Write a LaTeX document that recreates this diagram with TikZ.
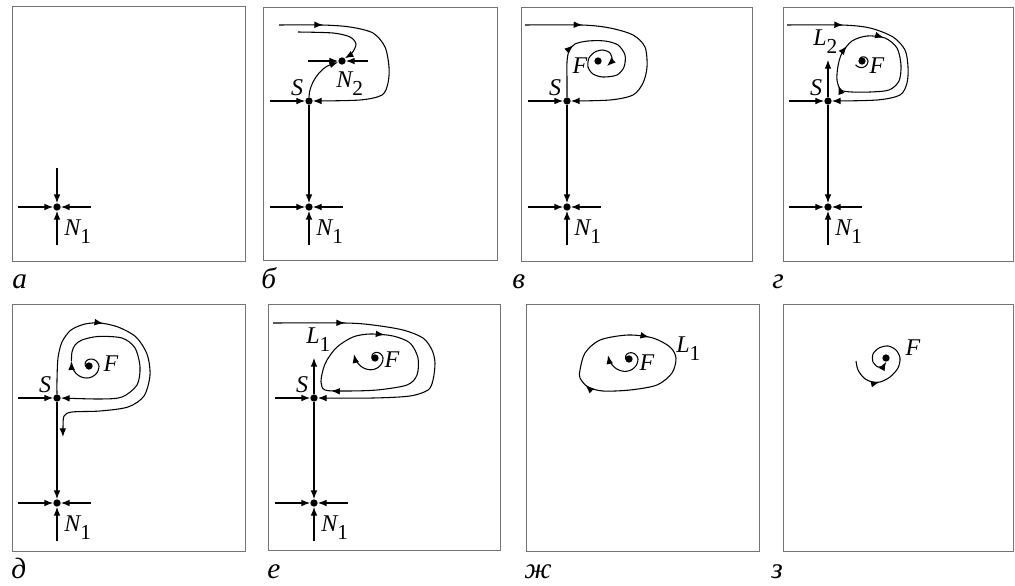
\documentclass[tikz,border=0pt]{standalone}
\usepackage{fontspec}
\setmainfont{Liberation Serif}
\newfontfamily\labelserif{Liberation Serif}
\usetikzlibrary{arrows.meta,decorations.markings}

% upright, lowered index after an italic letter
\newcommand\subidx[1]{\raisebox{-6.5pt}{\fontsize{16}{16}\selectfont\labelserif\upshape #1}}

% stable node: dot, three incoming stubs and the label N_1
\newcommand\sinkcross[3]{%
  \node[pt] (#1) at (#2,#3) {};
  \path (#1) ++(-39,0) coordinate (#1w);
  \path (#1) ++(34,0) coordinate (#1e);
  \path (#1) ++(0,38) coordinate (#1s);
  \draw[traj,tip] (#1w) -- (#1);
  \draw[traj,tip] (#1e) -- (#1);
  \draw[traj,tip] (#1s) -- (#1);
  \path (#1) ++(7,28) node[lbl,anchor=base west] (#1l) {N\subidx{1}};
}

% saddle: dot, incoming stub from the left and the label S
\newcommand\saddlept[3]{%
  \node[pt] (#1) at (#2,#3) {};
  \path (#1) ++(-39,0) coordinate (#1w);
  \draw[traj,tip] (#1w) -- (#1);
  \path (#1) ++(-12,-13) node[lbl] (#1l) {S};
}

\begin{document}
\begin{tikzpicture}[x=0.75pt,y=-0.75pt,
  frame/.style={draw=black!55, line width=0.75pt},
  traj/.style={line width=0.8pt, draw=black},
  tip/.style={-{Latex[length=6.5pt,width=5pt]}},
  pt/.style={circle, fill=black, inner sep=0pt, minimum size=5.5pt},
  arrowat/.style={postaction={decorate, decoration={markings,
      mark=at position #1 with {\arrow{Latex[length=6.5pt,width=5pt]}}}}},
  lbl/.style={font=\fontsize{18}{18}\selectfont\labelserif\itshape, inner sep=0pt},
  panelcap/.style={font=\fontsize{22}{22}\selectfont\labelserif\itshape, inner sep=0pt, anchor=base west},
  declare function={spr(\ang,\ra,\rb)=(\ang<0)*(\ra*(\ang+270)/270)+(1-(\ang<0))*(\ra+\rb*(\ang/180)*(\ang/180));}
]
\useasboundingbox (0,0) rectangle (1015,586);

% ---------- frames ----------
\draw[frame] (12,6)   rectangle (245,261);
\draw[frame] (263,7)  rectangle (497,260);
\draw[frame] (521,7)  rectangle (752,261);
\draw[frame] (783,7)  rectangle (1013,261);
\draw[frame] (12,304) rectangle (245,551);
\draw[frame] (268,304) rectangle (500,550);
\draw[frame] (526,304) rectangle (759,551);
\draw[frame] (783,304) rectangle (1013,551);

% ---------- captions ----------
\node[panelcap] (capA) at (12,288)  {а};
\node[panelcap] (capB) at (261,288) {б};
\node[panelcap] (capC) at (512,288) {в};
\node[panelcap] (capD) at (772,288) {г};
\node[panelcap] (capE) at (11,578)  {д};
\node[panelcap] (capF) at (267,578) {е};
\node[panelcap] (capG) at (524,578) {ж};
\node[panelcap] (capH) at (771,578) {з};

% ---------- panel a ----------
\sinkcross{aN}{57}{207}
\path (aN) ++(0,-39) coordinate (aNn);
\draw[traj,tip] (aNn) -- (aN);

% ---------- panel b ----------
\saddlept{bS}{309}{101}
\sinkcross{bN}{309}{207}
\draw[traj,tip] (bS) -- (bN);
\node[pt] (bM) at (342,61) {};
\path (bM) ++(-34,0) coordinate (bMw);
\path (bM) ++(26,0) coordinate (bMe);
\draw[traj,tip] (bMw) -- (bM);
\draw[traj,tip] (bMe) -- (bM);
\node[lbl,anchor=base west] (bMl) at (336,87) {N\subidx{2}};
\draw[traj,tip] (bS.north) .. controls (309,84) and (320,68) .. (bM);
\coordinate (bA) at (279,25);
\draw[traj,tip,arrowat=33pt] plot[smooth] coordinates {(bA) (322,25) (350,27) (373,33) (385,47) (389,67) (388,83) (382,95) (360,100) (bS.east)};
\coordinate (bB) at (298,32);
\draw[traj,tip] plot[smooth] coordinates {(bB) (333,33) (350,37) (356,44) (352,53) (bM.north east)};

% ---------- panel c ----------
\saddlept{cS}{567}{101}
\sinkcross{cN}{567}{207}
\draw[traj,tip] (cS) -- (cN);
\node[pt] (cF) at (598,61) {};
\node[lbl] (cFl) at (580,66) {F};
\coordinate (cA) at (525,25);
\draw[traj,tip,arrowat=43pt] plot[smooth] coordinates {(cA) (582,25) (610,28) (633,35) (645,47) (647,67) (643,83) (633,95) (610,100) (cS.east)};
\draw[traj,tip,arrowat=40pt] plot[smooth] coordinates {(cS.north) (567,80) (567,62) (569,51) (575,44) (588,41) (605,41) (618,45) (625,55) (624,67) (617,75) (603,77) (593,74) (588,67) (589,58) (595,52) (603,50) (610,53) (612,60) (607,66)};

% ---------- panel d ----------
\saddlept{dS}{828}{101}
\sinkcross{dN}{828}{207}
\draw[traj,tip] (dS) -- (dN);
\coordinate (dSu) at (828,60);
\draw[traj,tip] (dS) -- (dSu);
\coordinate (dA) at (787,25);
\draw[traj,tip,arrowat=42pt] plot[smooth] coordinates {(dA) (842,25) (870,28) (893,37) (905,50) (908,67) (907,83) (900,95) (877,100) (dS.east)};
\draw[traj,arrowat=0.11,arrowat=0.31,arrowat=0.9] plot[smooth cycle] coordinates {(837,80) (838,66) (842,53) (852,41) (867,36) (885,38) (897,48) (901,65) (899,81) (889,90) (870,92) (852,92) (841,90)};
\node[pt] (dF) at (862,61) {};
\draw[traj] plot[domain=-270:150,samples=70,smooth] ({862+spr(\x,6,2)*cos(\x)},{61+spr(\x,6,2)*sin(\x)});
\node[lbl] (dFl) at (877,66) {F};
\node[lbl,anchor=base west] (dLl) at (813,45) {L\subidx{2}};

% ---------- panel e ----------
\saddlept{eS}{57}{398}
\sinkcross{eN}{57}{503}
\draw[traj,tip] (eS) -- (eN);
\draw[traj,tip,arrowat=76pt] plot[smooth] coordinates {(eS.north) (57,380) (58,358) (62,342) (71,330) (85,324) (100,323) (118,327) (136,337) (147,354) (150,375) (144,396) (128,407) (100,411) (72,412) (64,416) (63,428) (63,437)};
\node[pt] (eF) at (89,366) {};
\draw[traj,tip] plot[domain=-270:195,samples=90,smooth] ({89+spr(\x,10,7)*cos(\x)},{366+spr(\x,10,7)*sin(\x)}) coordinate (eQ);
\draw[traj,tip] plot[smooth] coordinates {(eQ) (72,352) (75,345) (82,340) (98,336.5) (122,338) (135,348) (140,367) (137,385) (122,397) (100,399) (eS.east)};
\node[lbl] (eFl) at (111,364) {F};

% ---------- panel f ----------
\saddlept{fS}{314}{398}
\sinkcross{fN}{314}{503}
\draw[traj,tip] (fS) -- (fN);
\coordinate (fSu) at (314,358);
\draw[traj,tip] (fS) -- (fSu);
\coordinate (fA) at (273,323);
\draw[traj,tip,arrowat=54pt] plot[smooth] coordinates {(fA) (345,323) (373,325) (403,330) (423,338) (432,350) (435,363) (433,380) (428,390) (410,396) (373,398) (fS.east)};
\draw[traj,arrowat=0.26,arrowat=0.85] plot[smooth cycle] coordinates {(323,370) (327,360) (337,347) (353,337) (370,334) (393,336) (410,343) (418,358) (417,375) (407,385) (377,390) (345,391) (325,390) (321,382)};
\node[pt] (fF) at (375,358) {};
\draw[traj,tip] plot[domain=-270:190,samples=90,smooth] ({375+spr(\x,8,12)*cos(\x)},{358+spr(\x,8,12)*sin(\x)});
\node[lbl] (fFl) at (392,360) {F};
\node[lbl,anchor=base west] (fLl) at (306,343) {L\subidx{1}};

% ---------- panel g ----------
\draw[traj,arrowat=0.28,arrowat=0.86] plot[smooth cycle] coordinates {(580,370) (585,353) (600,340) (628,335) (653,338) (670,347) (676,358) (672,373) (657,385) (630,390) (603,391) (588,387) (580,378)};
\node[pt] (gF) at (629,359) {};
\draw[traj,tip] plot[domain=-270:190,samples=90,smooth] ({629+spr(\x,9,11)*cos(\x)},{359+spr(\x,9,11)*sin(\x)});
\node[lbl] (gFl) at (647,363) {F};
\node[lbl,anchor=base west] (gLl) at (676,352) {L\subidx{1}};

% ---------- panel h ----------
\node[pt] (hF) at (886,358) {};
\draw[traj,tip,arrowat=27pt] plot[smooth] coordinates {(856,361) (858,370) (864,378) (872,382) (880,382) (890,377) (898,368) (900,358) (896,350) (888,346) (879,348) (873,354) (873,362) (878,367) (883,366) (hF.south)};
\node[lbl] (hFl) at (913,348) {F};

\end{tikzpicture}
\end{document}
